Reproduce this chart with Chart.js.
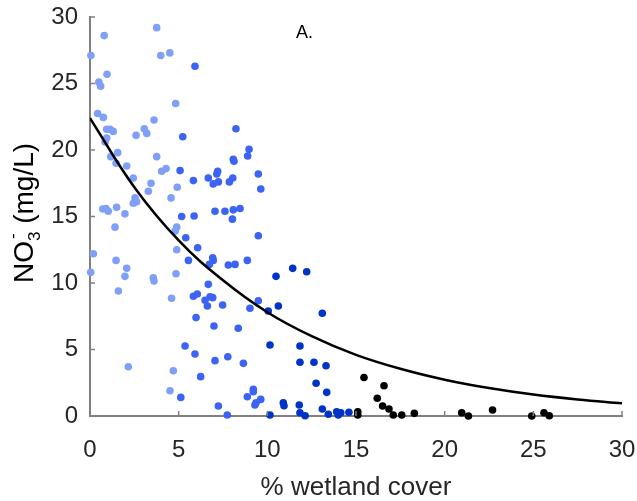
<!DOCTYPE html>
<html>
<head>
<meta charset="utf-8">
<script src="https://cdn.jsdelivr.net/npm/chart.js@4"></script>
<style>
  html, body { margin: 0; padding: 0; background: #fff; }
  #wrap { width: 637px; height: 501px; }
</style>
</head>
<body>
<div id="wrap"><canvas id="nitrateChart" width="637" height="501"></canvas></div>
<script>
  // Points, grouped by wetland-cover class
  const lightX = [0.05, 0.8, 0.96, 0.5, 0.6, 3.76, 3.99, 4.5, 4.83, 0.43, 0.75, 3.61, 0.94, 1.13, 1.31, 3.06, 3.2, 2.6, 0.94, 0.85,
    1.17, 1.56, 1.47, 2.07, 3.76, 4.04, 4.29, 2.44, 3.44, 3.29, 4.57, 4.92, 2.54, 2.63, 2.44, 0.72, 0.9, 1.03, 1.5, 1.97,
    1.41, 4.89, 4.8, 4.89, 0.19, 1.47, 2.07, 0.04, 1.97, 3.57, 3.61, 1.6, 4.6, 4.85, 2.16, 4.7, 4.51];
  const lightY = [27.1, 28.6, 25.7, 25.1, 24.8, 29.2, 27.1, 27.3, 23.5, 22.75, 22.45, 22.26, 21.56, 21.56, 21.4, 21.6, 21.25, 21.1, 20.9, 20.6,
    19.5, 19.8, 19.0, 18.8, 19.5, 18.4, 18.6, 17.9, 17.5, 16.9, 16.4, 17.2, 16.4, 16.1, 16.0, 15.56, 15.6, 15.4, 15.7, 15.2,
    14.2, 14.2, 13.9, 12.5, 12.2, 11.7, 11.1, 10.8, 10.5, 10.4, 10.15, 9.4, 8.85, 10.7, 3.7, 3.4, 1.9];

  const midX = [5.92, 8.23, 5.23, 8.97, 8.89, 8.08, 8.12, 5.08, 9.49, 7.2, 7.15, 6.67, 5.83, 6.95, 7.24, 7.86, 8.05, 9.63, 5.17, 5.87,
    7.05, 7.61, 8.08, 8.46, 8.03, 9.49, 5.4, 6.07, 5.55, 6.92, 6.95, 6.73, 7.8, 8.18, 8.87, 6.67, 5.83, 6.05, 6.49, 6.77,
    6.92, 6.62, 7.48, 9.49, 9.02, 5.98, 6.99, 8.36, 5.36, 5.92, 7.05, 7.77, 8.65, 6.24, 9.21, 9.21, 8.87, 9.63, 9.36, 9.3,
    5.12, 7.24, 7.74];
  const midY = [26.3, 21.6, 21.0, 20.05, 19.55, 19.3, 19.15, 18.45, 18.2, 18.4, 18.2, 17.9, 17.7, 17.45, 17.6, 17.6, 17.9, 17.07, 15.0, 15.04,
    15.4, 15.4, 15.5, 15.6, 14.8, 13.55, 13.4, 12.65, 11.7, 11.9, 11.7, 11.4, 11.35, 11.4, 11.7, 9.9, 9.0, 9.17, 8.7, 8.97,
    8.9, 8.27, 8.35, 8.67, 8.1, 7.4, 6.77, 6.6, 5.26, 4.66, 4.16, 4.46, 3.96, 2.96, 2.0, 1.83, 1.45, 1.25, 1.0, 0.83,
    1.4, 0.75, 0.08];

  const darkX = [10.49, 11.43, 12.22, 10.62, 10.05, 13.1, 10.15, 11.84, 11.84, 12.63, 13.31, 12.75, 13.35, 10.9, 10.94, 11.8, 11.84, 12.13, 10.15, 13.1,
    13.44, 13.91, 14.0, 14.14, 14.6];
  const darkY = [10.5, 11.1, 10.85, 8.27, 7.9, 7.72, 5.34, 5.26, 4.04, 4.04, 3.78, 2.46, 1.78, 1.0, 0.77, 0.83, 0.25, 0.02, 0.08, 0.53,
    0.13, 0.32, 0.08, 0.25, 0.28];

  const blackX = [15.1, 15.1, 15.45, 16.2, 16.58, 16.5, 16.86, 17.1, 17.58, 18.29, 20.96, 21.34, 22.7, 24.91, 25.6, 25.9];
  const blackY = [0.32, 0.08, 2.9, 1.33, 2.28, 0.75, 0.53, 0.08, 0.08, 0.2, 0.25, 0.0, 0.45, 0.0, 0.25, 0.02];

  // Fitted curve, sampled off the figure
  const curveX = [0, 2.5, 5, 7.5, 10, 12.5, 15, 17.5, 20, 22.5, 25, 27.5, 30];
  const curveY = [22.4, 17.2, 13.2, 10.2, 7.8, 6.0, 4.6, 3.55, 2.73, 2.1, 1.61, 1.24, 0.95];

  const xTicks = [0, 5, 10, 15, 20, 25, 30];
  const yTicks = [0, 5, 10, 15, 20, 25, 30];

  const toPoints = (xs, ys) => xs.map((x, i) => ({ x: x, y: ys[i] }));
  const axisGray = '#808080';
  const textColor = '#262626';
  const fontFamily = '"Liberation Sans", Arial, sans-serif';

  // MATLAB style inward ticks, y label with sub/superscript, panel letter
  const extras = {
    id: 'extras',
    afterDraw(chart) {
      const { ctx, chartArea, scales } = chart;
      ctx.save();
      ctx.strokeStyle = axisGray;
      ctx.lineWidth = 1.5;
      xTicks.forEach(v => {
        const px = scales.x.getPixelForValue(v);
        ctx.beginPath();
        ctx.moveTo(px, chartArea.bottom);
        ctx.lineTo(px, chartArea.bottom - 5);
        ctx.stroke();
      });
      yTicks.forEach(v => {
        const py = scales.y.getPixelForValue(v);
        ctx.beginPath();
        ctx.moveTo(chartArea.left, py);
        ctx.lineTo(chartArea.left + 5, py);
        ctx.stroke();
      });

      // y axis title: NO3- (mg/L)
      ctx.fillStyle = '#000';
      ctx.translate(25, 213);
      ctx.rotate(-Math.PI / 2);
      const big = '28px ' + fontFamily;
      const small = '17px ' + fontFamily;
      ctx.font = big;
      const wNO = ctx.measureText('NO').width;
      const wRest = ctx.measureText(' (mg/L)').width;
      ctx.font = small;
      const wSub = ctx.measureText('3').width;
      const total = wNO + wSub + wRest;
      let x0 = -total / 2;
      ctx.textBaseline = 'middle';
      ctx.textAlign = 'left';
      ctx.font = big;
      ctx.fillText('NO', x0, 0);
      ctx.font = small;
      ctx.fillText('3', x0 + wNO, 10);
      ctx.fillText('-', x0 + wNO + 2, -12);
      ctx.font = big;
      ctx.fillText(' (mg/L)', x0 + wNO + wSub, 0);
      ctx.restore();

      // panel label
      ctx.save();
      ctx.fillStyle = '#000';
      ctx.font = '18px ' + fontFamily;
      ctx.textAlign = 'center';
      ctx.textBaseline = 'middle';
      ctx.fillText('A.', scales.x.getPixelForValue(12.1), scales.y.getPixelForValue(28.8));
      ctx.restore();
    }
  };

  const ctx = document.getElementById('nitrateChart').getContext('2d');
  const nitrateChart = new Chart(ctx, {
    type: 'scatter',
    data: {
      datasets: [
        {
          label: 'Fit',
          data: toPoints(curveX, curveY),
          showLine: true,
          borderColor: '#000',
          borderWidth: 2.5,
          pointRadius: 0,
          tension: 0.4,
          fill: false,
        },
        { label: '0-5%', data: toPoints(lightX, lightY), backgroundColor: '#809ff7', borderWidth: 0, pointRadius: 3.8, clip: false },
        { label: '5-10%', data: toPoints(midX, midY), backgroundColor: '#3c63f3', borderWidth: 0, pointRadius: 3.8, clip: false },
        { label: '10-15%', data: toPoints(darkX, darkY), backgroundColor: '#0033c8', borderWidth: 0, pointRadius: 3.8, clip: false },
        { label: '>15%', data: toPoints(blackX, blackY), backgroundColor: '#000000', borderWidth: 0, pointRadius: 3.8, clip: false },
      ],
    },
    options: {
      responsive: false,
      animation: false,
      layout: { padding: { top: 17, right: 15, left: 0, bottom: 0 } },
      plugins: {
        legend: { display: false },
        tooltip: { enabled: false },
      },
      scales: {
        x: {
          type: 'linear',
          min: 0,
          max: 30,
          afterFit: scale => { scale.height = 85; scale.paddingRight = 0; scale.paddingLeft = 0; },
          afterBuildTicks: scale => { scale.ticks = xTicks.map(v => ({ value: v })); },
          ticks: { color: textColor, font: { family: fontFamily, size: 24 }, padding: 20 },
          grid: { drawOnChartArea: false, drawTicks: false },
          border: { color: axisGray, width: 2 },
          title: {
            display: true,
            text: '% wetland cover',
            color: textColor,
            font: { family: fontFamily, size: 26 },
            padding: { top: 10, bottom: -2 },
          },
        },
        y: {
          type: 'linear',
          min: 0,
          max: 30,
          afterFit: scale => { scale.width = 90; scale.paddingTop = 0; scale.paddingBottom = 0; },
          afterBuildTicks: scale => { scale.ticks = yTicks.map(v => ({ value: v })); },
          ticks: { color: textColor, font: { family: fontFamily, size: 24 }, padding: 12 },
          grid: { drawOnChartArea: false, drawTicks: false },
          border: { color: axisGray, width: 2 },
        },
      },
    },
    plugins: [extras],
  });
</script>
</body>
</html>
